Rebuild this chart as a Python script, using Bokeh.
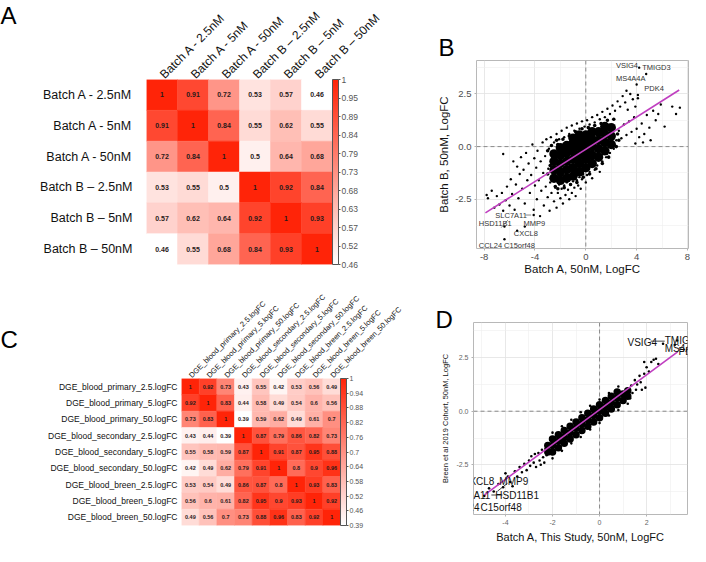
import numpy as np
from bokeh.plotting import figure
from bokeh.layouts import row, column
from bokeh.models import (ColumnDataSource, LinearColorMapper, ColorBar, FixedTicker,
                          Span, Range1d, FactorRange, Title)
from bokeh.transform import transform
from bokeh.embed import file_html
from bokeh.resources import INLINE
from bokeh.core.properties import value

FONT = "Liberation Sans"

# ---------------- data: panel A ----------------
a_names = ["Batch A - 2.5nM", "Batch A - 5nM", "Batch A - 50nM",
           "Batch B \u2013 2.5nM", "Batch B \u2013 5nM", "Batch B \u2013 50nM"]
a_corr = [
    [1, 0.91, 0.72, 0.53, 0.57, 0.46],
    [0.91, 1, 0.84, 0.55, 0.62, 0.55],
    [0.72, 0.84, 1, 0.5, 0.64, 0.68],
    [0.53, 0.55, 0.5, 1, 0.92, 0.84],
    [0.57, 0.62, 0.64, 0.92, 1, 0.93],
    [0.46, 0.55, 0.68, 0.84, 0.93, 1],
]
a_cb_min = 0.46
a_cb_labels = ["0.46", "0.52", "0.57", "0.63", "0.68", "0.73", "0.79", "0.84", "0.89", "0.95", "1"]

# ---------------- data: panel C ----------------
c_names = ["DGE_blood_primary_2.5.logFC", "DGE_blood_primary_5.logFC", "DGE_blood_primary_50.logFC",
           "DGE_blood_secondary_2.5.logFC", "DGE_blood_secondary_5.logFC", "DGE_blood_secondary_50.logFC",
           "DGE_blood_breen_2.5.logFC", "DGE_blood_breen_5.logFC", "DGE_blood_breen_50.logFC"]
c_corr = [
    [1, 0.92, 0.73, 0.43, 0.55, 0.42, 0.53, 0.56, 0.49],
    [0.92, 1, 0.83, 0.44, 0.58, 0.49, 0.54, 0.6, 0.56],
    [0.73, 0.83, 1, 0.39, 0.59, 0.62, 0.49, 0.61, 0.7],
    [0.43, 0.44, 0.39, 1, 0.87, 0.79, 0.86, 0.82, 0.73],
    [0.55, 0.58, 0.59, 0.87, 1, 0.91, 0.87, 0.95, 0.88],
    [0.42, 0.49, 0.62, 0.79, 0.91, 1, 0.8, 0.9, 0.96],
    [0.53, 0.54, 0.49, 0.86, 0.87, 0.8, 1, 0.93, 0.83],
    [0.56, 0.6, 0.61, 0.82, 0.95, 0.9, 0.93, 1, 0.92],
    [0.49, 0.56, 0.7, 0.73, 0.88, 0.96, 0.83, 0.92, 1],
]
c_cb_min = 0.39
c_cb_labels = ["0.39", "0.46", "0.52", "0.58", "0.64", "0.7", "0.76", "0.82", "0.88", "0.94", "1"]

# ---------------- data: panel B (Batch A vs Batch B, 50nM) ----------------
b_core_x = [-2.5, -2.5, -2.5, -2.5, -2.0, -2.0, -2.0, -2.0, -2.0, -1.5, -1.5, -1.5, -1.5, -1.5,
            -1.0, -1.0, -1.0, -1.0, -1.0, -1.0, -0.5, -0.5, -0.5, -0.5, -0.5, -0.5,
            0.0, 0.0, 0.0, 0.0, 0.0, 0.5, 0.5, 0.5, 0.5, 0.5, 1.0, 1.0, 1.0, 1.0,
            1.5, 1.5, 1.5, 1.5, 2.0, 2.0, 2.0]
b_core_y = [-1.5, -1.1, -0.7, -0.35, -1.6, -1.2, -0.8, -0.4, -0.05, -1.5, -1.1, -0.7, -0.3, 0.05,
            -1.4, -1.0, -0.6, -0.2, 0.15, 0.4, -1.2, -0.8, -0.4, 0.0, 0.3, 0.55,
            -1.0, -0.6, -0.2, 0.2, 0.55, -0.8, -0.4, 0.0, 0.35, 0.7, -0.5, -0.1, 0.3, 0.7,
            -0.2, 0.2, 0.6, 0.95, 0.1, 0.5, 0.9]
b_mid_x = [-3.0, -2.8, -2.6, -2.4, -2.2, -3.0, -2.7, -2.3, -1.8, -1.3, -0.8, -0.3, 0.2, 0.7, 1.2,
           1.7, 2.2, 2.5, 2.4, 2.6, 1.8, 1.3, 0.8, 0.3, -0.2, -0.7, -1.2, -1.7, -2.2, -2.7]
b_mid_y = [-0.2, -0.9, -1.5, -1.9, 0.1, -1.3, 0.05, 0.3, 0.35, 0.5, 0.7, 0.85, 0.9, 1.0, 1.1,
           1.25, 1.3, 0.6, 0.0, 0.3, -0.5, -0.8, -1.05, -1.3, -1.45, -1.7, -1.8, -1.95, -2.0, -1.2]
b_x = [-7.8, -7.7, -7.4, -7.2, -7.0, -6.8, -6.6, -6.5, -6.3, -6.2, -6.5, -6.0, -5.9, -5.8, -5.7,
       -5.6, -5.5, -5.4, -5.3, -5.2, -5.1, -5.0, -4.9, -4.8, -4.7, -4.6, -4.5, -4.4, -4.3, -4.2,
       -4.1, -4.05, -4.0,
       -3.9, -3.85, -3.8, -3.7, -3.6, -3.55, -3.5, -3.4, -3.35, -3.3, -3.2, -3.15, -3.1, -3.0,
       -2.95, -2.9, -2.85, -2.8, -2.75, -2.7, -2.65,
       -2.5, -2.4, -2.3, -2.2, -2.1, -2.0, -1.9, -1.8, -1.7, -1.6, -1.5, -1.4, -1.3, -1.2, -1.1,
       -1.0, -0.9, -0.8, -0.7, -0.6, -0.5, -0.4, -0.3, -0.2, 0.0, 0.1, 0.3, 0.5, 0.7, 0.9, 1.1,
       1.3, 1.6, 1.9, 2.2,
       -2.5, -2.3, -2.1, -1.9, -1.7, -1.5, -1.3, -1.1, -0.9, -0.7, -0.5, -0.3, -0.1, 0.1, 0.3,
       0.5, 0.7, 0.9, 1.1, 1.3, 1.5, 1.7, 1.9, 2.1, 2.3, 2.5, 2.7, 2.9, 3.1, 3.3, 3.5, 3.7, 3.9,
       4.1, 3.2,
       2.4, 2.6, 2.8, 3.0, 3.2, 3.4, 3.6, 3.8, 4.0, 4.2, 4.4, 4.6, 4.8, 5.0, 5.1, 5.3, 5.5, 5.7,
       5.9, 6.2, 6.8, 7.1, 7.4, 3.9, 4.5,
       4.2, 4.75, 4.0, 4.1, -4.1, -6.4, -4.8, -5.4, -6.4]
b_y = [-2.3, -2.45, -2.1, -2.9, -2.35, -2.75, -2.2, -3.05, -2.55, -1.9, -0.35, -2.8, -1.55, -2.25,
       -0.7, -3.0, -1.8, -0.95, -2.45, -1.3, -0.5, -2.0, -1.1, -2.7, -0.3, -1.6, -0.8, -2.2, -1.35,
       0.1, -3.0, -0.55, -1.85,
       -1.0, -2.5, -0.2, -1.6, -3.3, -0.7, -2.1, 0.2, -1.25, -2.8, -0.45, -1.9, 0.35, -2.4,
       -1.05, -0.1, -3.05, -1.7, 0.45, -2.2, -0.6,
       -2.6, -1.95, -2.9, -2.2, -1.8, -2.45, -2.0, -2.7, -1.85, -2.3, -1.7, -2.05, -2.5, -1.8, -2.2,
       -1.65, -1.95, -2.35, -1.6, -1.85, -1.45, -2.0, -1.55, -1.3, -1.7, -1.35, -1.2, -1.5, -1.1,
       -0.9, -1.2, -0.7, -0.5, -0.3, -0.1,
       0.2, 0.6, 0.35, 0.75, 0.45, 0.9, 0.6, 1.0, 0.75, 1.1, 0.85, 1.2, 0.95, 1.25, 1.05,
       1.4, 1.15, 1.5, 1.3, 1.65, 1.4, 1.8, 1.55, 1.95, 1.7, 2.15, 1.9, 2.4, 2.1, 1.75, 2.5, 2.25,
       1.9, 2.3, 2.65,
       0.3, 0.75, 0.4, 1.05, 0.55, 1.2, 0.7, 1.4, 0.85, 0.45, 1.1, 0.6, 1.5, 0.9, 0.3, 1.7, 1.25,
       1.55, 2.0, 0.95, 1.9, 1.55, 1.85, 0.15, 0.2,
       3.75, 3.45, 2.95, 2.45, -3.25, -3.8, -3.8, -4.0, -4.4]
b_fit_x = [-7.9, 7.35]
b_fit_y = [-3.15, 2.69]
b_lab_text = ["VSIG4", "TMIGD3", "MS4A4A", "PDK4", "SLC7A11", "HSD11B1", "MMP9", "CXCL8",
              "CCL24", "C15orf48"]
b_lab_x = [2.37, 4.44, 2.37, 4.6, -7.12, -8.42, -4.9, -5.67, -8.42, -6.43]
b_lab_y = [3.85, 3.78, 3.25, 2.78, -3.25, -3.67, -3.67, -4.14, -4.7, -4.7]
b_seg_x0 = [-4.75, -6.66]
b_seg_y0 = [-3.25, -3.85]
b_seg_x1 = [-4.3, -6.13]
b_seg_y1 = [-3.25, -3.49]
b_xticks = [-8, -4, 0, 4, 8]
b_xtick_labels = ["-8", "-4", "0", "4", "8"]
b_xminor = [-6, -2, 2, 6]
b_yticks = [-2.5, 0.0, 2.5]
b_ytick_labels = ["-2.5", "0.0", "2.5"]
b_yminor = [-3.75, -1.25, 1.25, 3.75]

# ---------------- data: panel D (Batch A vs Breen et al 2019) ----------------
d_core_x = [-2.2, -2.2, -2.0, -2.0, -2.0, -1.75, -1.75, -1.75, -1.5, -1.5, -1.5,
            -1.25, -1.25, -1.25, -1.0, -1.0, -1.0, -0.75, -0.75, -0.75, -0.5, -0.5, -0.5,
            -0.25, -0.25, -0.25, 0.0, 0.0, 0.0, 0.25, 0.25, 0.25, 0.5, 0.5, 0.5,
            0.75, 0.75, 0.75, 1.0, 1.0, 1.2, 1.2]
d_core_y = [-1.9, -1.6, -1.9, -1.6, -1.3, -1.7, -1.4, -1.1, -1.5, -1.2, -0.9,
            -1.3, -1.0, -0.7, -1.1, -0.8, -0.5, -0.9, -0.6, -0.3, -0.7, -0.4, -0.1,
            -0.5, -0.2, 0.1, -0.3, 0.0, 0.3, -0.1, 0.2, 0.5, 0.1, 0.4, 0.7,
            0.3, 0.6, 0.9, 0.5, 0.8, 0.7, 0.95]
d_x = [-4.9, -4.7, -4.5, -4.3, -4.1, -3.9, -3.8, -3.6, -3.5, -3.4, -3.3, -3.2, -3.1, -3.0,
       -2.95, -2.9, -2.8, -2.75, -2.7, -2.6, -2.55, -2.5, -2.45, -2.4, -2.35, -2.3, -2.25,
       -3.7, -4.0,
       -2.0, -1.6, -1.2, -0.8, -0.4, 0.0, 0.4, 0.8,
       -2.0, -1.6, -1.2, -0.8, -0.4, 0.0, 0.4, 0.8, 1.2,
       1.3, 1.35, 1.4, 1.5, 1.55, 1.6, 1.7, 1.75, 1.8, 1.9, 1.95, 2.0, 2.1, 2.2, 2.3, 2.4, 2.5,
       1.9, 2.7, 3.2, 3.3]
d_y = [-3.95, -3.6, -3.75, -3.4, -3.55, -3.05, -3.3, -2.8, -3.05, -2.6, -2.85, -2.45, -2.75,
       -2.3, -2.55, -2.1, -2.4, -2.0, -2.6, -1.95, -2.3, -2.5, -1.8, -2.15, -2.4, -1.75, -2.05,
       -3.5, -2.9,
       -1.0, -0.7, -0.4, -0.05, 0.25, 0.55, 0.85, 1.15,
       -2.2, -1.85, -1.5, -1.2, -0.85, -0.55, -0.2, 0.05, 0.35,
       0.6, 1.2, 0.85, 1.45, 1.0, 1.25, 1.65, 1.35, 1.0, 1.75, 1.1, 2.05, 1.85, 2.3, 2.4, 2.45, 2.2,
       2.3, 3.15, 3.1, 3.3]
d_fit_x = [-4.89, 3.32]
d_fit_y = [-3.9, 2.77]
d_lab_text = ["VSIG4", "TMIGD3", "MS4A4A", "PDK4", "MMP9", "HSD11B1", "C15orf48"]
d_lab_x = [1.19, 2.77, 2.77, 3.36, -4.26, -4.43, -5.06]
d_lab_y = [3.23, 3.3, 2.95, 2.77, -3.27, -3.91, -4.5]
d_labr_text = ["CXCL8", "SLC7A11", "CCL24"]
d_labr_x = [-4.47, -4.64, -5.1]
d_labr_y = [-3.27, -3.91, -4.5]
d_seg_x0 = [2.17, -4.6, -4.34]
d_seg_y0 = [3.27, -3.91, -3.73]
d_seg_x1 = [2.77, -4.13, -3.91]
d_seg_y1 = [3.27, -3.91, -3.36]
d_xticks = [-4, -2, 0, 2]
d_xtick_labels = ["-4", "-2", "0", "2"]
d_xminor = [-5, -3, -1, 1, 3]
d_yticks = [-2.5, 0.0, 2.5]
d_ytick_labels = ["-2.5", "0.0", "2.5"]
d_yminor = [-3.75, -1.25, 1.25, 3.75]

# ---------------- styling helpers ----------------
RED = (255, 36, 8)
PALETTE = ["#%02x%02x%02x" % tuple(int(round(255 + (c - 255) * t)) for c in RED)
           for t in np.linspace(0, 1, 256)]


def no_align(p):
    try:
        p.frame_align = False
    except AttributeError:
        pass


def letter_title(text, standoff, offset=0):
    return Title(text=text, text_font=FONT, text_font_size="24px", text_font_style="normal",
                 text_color="#000000", align="left", offset=offset, standoff=standoff)


def letter_fig(text, width, height, top, standoff):
    f = figure(width=width, height=height, x_axis_type=None, y_axis_type=None,
               toolbar_location=None, output_backend="svg",
               min_border_left=0, min_border_right=0, min_border_top=top, min_border_bottom=0)
    no_align(f)
    f.outline_line_color = None
    f.add_layout(letter_title(text, standoff), "above")
    return f


def heatmap(names, corr, cb_min, cb_labels, width, height, fl, ft, fw, fh,
            row_fs, col_fs, cell_fs, cb_fs, row_standoff, col_standoff):
    xs, ys, vs, ts = [], [], [], []
    for i, rn in enumerate(names):
        for j, cn in enumerate(names):
            v = corr[i][j]
            xs.append(cn); ys.append(rn); vs.append(v); ts.append(f"{v:g}")
    src = ColumnDataSource(dict(x=xs, y=ys, v=vs, t=ts))
    mapper = LinearColorMapper(palette=PALETTE, low=cb_min, high=1.0)
    p = figure(width=width, height=height, x_range=FactorRange(factors=list(names)),
               y_range=FactorRange(factors=list(names[::-1])), x_axis_location="above",
               toolbar_location=None, output_backend="svg",
               min_border_left=fl, min_border_top=ft,
               min_border_right=width - fl - fw, min_border_bottom=height - ft - fh)
    no_align(p)
    p.rect(x="x", y="y", width=1, height=1, source=src,
           fill_color=transform("v", mapper), line_color=transform("v", mapper), line_width=0.5)
    p.text(x="x", y="y", text="t", source=src, text_align="center", text_baseline="middle",
           text_font=value(FONT), text_font_size=cell_fs, text_font_style="bold",
           text_color="#2a1a1a")
    p.grid.visible = False
    p.outline_line_color = None
    p.axis.axis_line_color = None
    p.axis.major_tick_line_color = None
    p.axis.major_tick_out = 0
    p.axis.major_tick_in = 0
    p.axis.major_label_text_font = FONT
    p.axis.major_label_text_color = "#111111"
    p.xaxis.major_label_orientation = np.pi / 4
    p.xaxis.major_label_text_font_size = col_fs
    p.yaxis.major_label_text_font_size = row_fs
    p.xaxis.major_label_standoff = col_standoff
    p.yaxis.major_label_standoff = row_standoff
    ticks = [round(cb_min + k * (1 - cb_min) / 10, 6) for k in range(11)]
    cb = ColorBar(color_mapper=mapper, ticker=FixedTicker(ticks=ticks),
                  major_label_overrides={t: l for t, l in zip(ticks, cb_labels)},
                  width=6, padding=0, margin=2, bar_line_color="#555555", bar_line_width=1,
                  major_tick_line_color="#555555", major_tick_in=0, major_tick_out=2,
                  label_standoff=1, major_label_text_font_size=cb_fs,
                  major_label_text_color="#555555", major_label_text_font=FONT,
                  background_fill_color=None, border_line_color=None)
    p.add_layout(cb, "right")
    return p


def scatter_panel(width, height, xr, yr, fl, fr, ft, fb, xticks, xtl, xminor, yticks, ytl, yminor,
                  xtitle, ytitle, tick_fs, xtitle_fs, ytitle_fs, tick_color, x_standoff, y_standoff):
    p = figure(width=width, height=height, x_range=Range1d(*xr), y_range=Range1d(*yr),
               toolbar_location=None, output_backend="svg",
               min_border_left=fl, min_border_right=fr, min_border_top=ft, min_border_bottom=fb)
    no_align(p)
    xt = FixedTicker(ticks=xticks, minor_ticks=xminor)
    yt = FixedTicker(ticks=yticks, minor_ticks=yminor)
    p.xaxis.ticker = xt
    p.yaxis.ticker = yt
    p.xgrid.ticker = xt
    p.ygrid.ticker = yt
    p.xaxis.major_label_overrides = dict(zip(xticks, xtl))
    p.yaxis.major_label_overrides = dict(zip(yticks, ytl))
    for g in (p.xgrid, p.ygrid):
        g.grid_line_color = "#E2E2E2"
        g.grid_line_width = 0.8
        g.minor_grid_line_color = "#EFEFEF"
        g.minor_grid_line_width = 0.6
    p.outline_line_color = "#B8B8B8"
    p.outline_line_width = 1
    p.axis.axis_line_color = None
    p.axis.major_tick_line_color = "#B3B3B3"
    p.axis.major_tick_in = 0
    p.axis.major_tick_out = 2
    p.axis.minor_tick_line_color = None
    p.axis.major_label_text_font = FONT
    p.axis.major_label_text_font_size = tick_fs
    p.axis.major_label_text_color = tick_color
    p.axis.major_label_standoff = 1
    p.axis.axis_label_text_font = FONT
    p.axis.axis_label_text_font_style = "normal"
    p.axis.axis_label_text_color = "#111111"
    p.xaxis.axis_label = xtitle
    p.yaxis.axis_label = ytitle
    p.xaxis.axis_label_text_font_size = xtitle_fs
    p.yaxis.axis_label_text_font_size = ytitle_fs
    p.xaxis.axis_label_standoff = x_standoff
    p.yaxis.axis_label_standoff = y_standoff
    for dim in ("height", "width"):
        p.add_layout(Span(location=0, dimension=dim, line_color="#8A8A8A", line_dash="4 3",
                          line_width=1, level="underlay"))
    return p


# ---------------- panel A ----------------
letA = letter_fig("A", 28, 277, 0, -2)
pA = heatmap(a_names, a_corr, a_cb_min, a_cb_labels, width=392, height=277,
             fl=118, ft=78, fw=186, fh=186, row_fs="12.5px", col_fs="12px", cell_fs="7px",
             cb_fs="8.5px", row_standoff=14, col_standoff=3)

# ---------------- panel B ----------------
pB = scatter_panel(270, 277, (-8.6, 8.08), (-4.84, 4.09), 56, 2, 60, 28,
                   b_xticks, b_xtick_labels, b_xminor, b_yticks, b_ytick_labels, b_yminor,
                   "Batch A, 50nM, LogFC", "Batch B, 50nM, LogFC", "9.5px", "11.5px", "11.5px",
                   "#4D4D4D", 0, 2)
pB.scatter(b_core_x, b_core_y, size=9.5, color="black", line_color=None)
pB.scatter(b_mid_x, b_mid_y, size=3.6, color="black", line_color=None)
pB.scatter(b_x, b_y, size=2.4, color="black", line_color=None)
pB.line(b_fit_x, b_fit_y, line_color="#C03FC0", line_width=1.6)
pB.segment(b_seg_x0, b_seg_y0, b_seg_x1, b_seg_y1, line_color="#555555", line_width=0.7)
pB.text(b_lab_x, b_lab_y, text=b_lab_text, text_font=value(FONT), text_font_size="7.5px",
        text_color="#333333", text_baseline="middle", text_align="left")
pB.add_layout(letter_title("B", 0, -38), "above")

# ---------------- panel C ----------------
letC = letter_fig("C", 28, 269, 75, 0)
pC = heatmap(c_names, c_corr, c_cb_min, c_cb_labels, width=392, height=269,
             fl=153, ft=101, fw=159, fh=147, row_fs="8.5px", col_fs="7.5px", cell_fs="5.5px",
             cb_fs="7px", row_standoff=4, col_standoff=2)

# ---------------- panel D ----------------
pD = scatter_panel(270, 269, (-5.36, 3.74), (-4.82, 4.14), 53, 3, 45, 32,
                   d_xticks, d_xtick_labels, d_xminor, d_yticks, d_ytick_labels, d_yminor,
                   "Batch A, This Study, 50nM, LogFC", "Breen et al 2019 Cohort, 50nM, LogFC",
                   "7px", "11px", "7.5px", "#666666", 3, 3)
pD.scatter(d_core_x, d_core_y, size=7.5, color="black", line_color=None)
pD.scatter(d_x, d_y, size=2.6, color="black", line_color=None)
pD.line(d_fit_x, d_fit_y, line_color="#C03FC0", line_width=1.6)
pD.segment(d_seg_x0, d_seg_y0, d_seg_x1, d_seg_y1, line_color="#111111", line_width=0.8)
pD.text(d_lab_x, d_lab_y, text=d_lab_text, text_font=value(FONT), text_font_size="10px",
        text_color="#111111", text_baseline="middle", text_align="left")
pD.text(d_labr_x, d_labr_y, text=d_labr_text, text_font=value(FONT), text_font_size="10px",
        text_color="#111111", text_baseline="middle", text_align="right")
pD.add_layout(letter_title("D", -20, -38), "above")

layout = column(row(letA, pA, pB), row(letC, pC, pD))
open("out.html", "w").write(file_html(layout, INLINE))
